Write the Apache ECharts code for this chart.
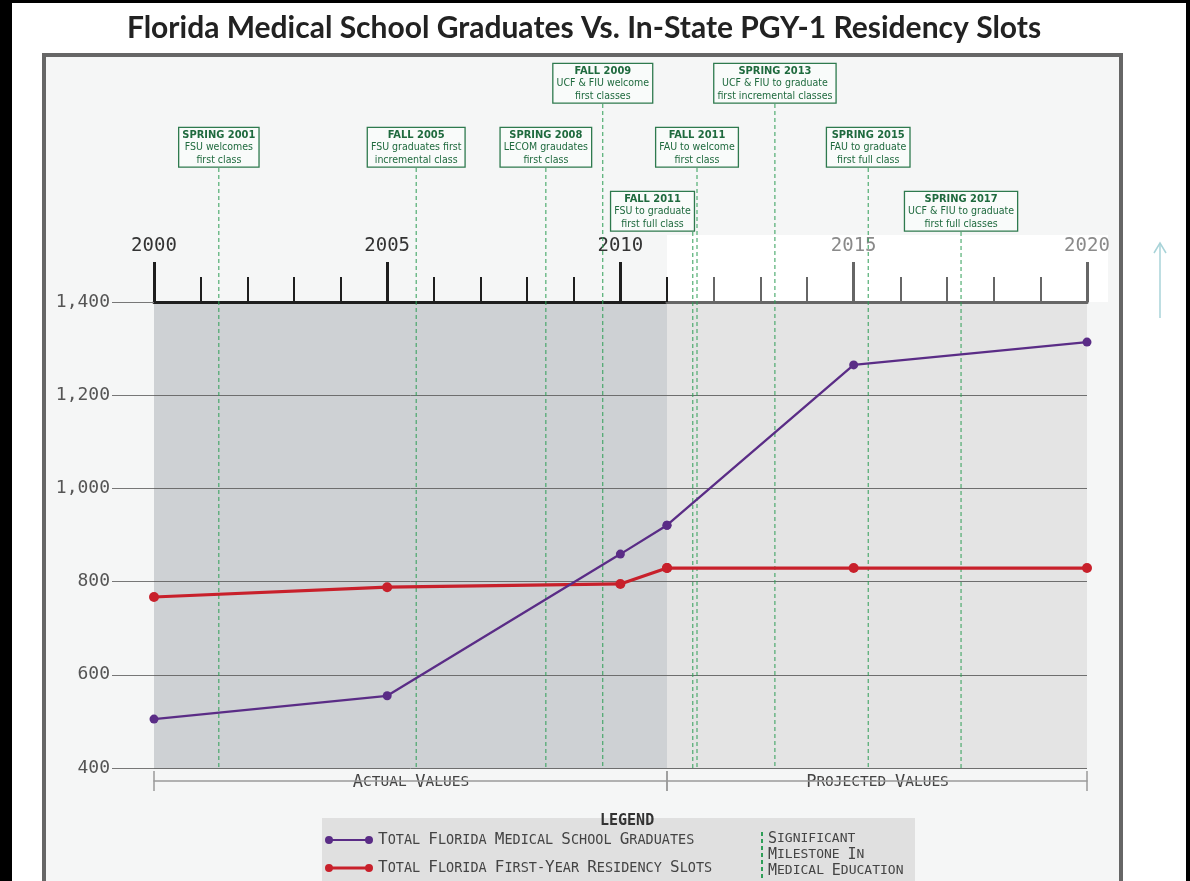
<!DOCTYPE html>
<html>
<head>
<meta charset="utf-8">
<style>
  html, body { margin: 0; padding: 0; background: #ffffff; }
  #chart { width: 1190px; height: 881px; }
</style>
<script src="https://cdn.jsdelivr.net/npm/echarts@6/dist/echarts.min.js"></script>
</head>
<body>
<div id="chart"></div>
<script>
// ---------------- data ----------------
const chartTitle = 'Florida Medical School Graduates Vs. In-State PGY-1 Residency Slots';
const years = [2000, 2005, 2010, 2011, 2015, 2020];
const graduates = [505, 555, 859, 921, 1265, 1314];
const residencySlots = [767, 788, 795, 829, 829, 829];
const lastActualYear = 2011;

const seriesNames = ['Total Florida Medical School Graduates', 'Total Florida First-Year Residency Slots'];
const milestoneName = 'Significant Milestone In Medical Education';

const majorYearsActual = [2000, 2005, 2010];
const minorYearsActual = [2001, 2002, 2003, 2004, 2006, 2007, 2008, 2009, 2011];
const majorYearsProjected = [2015, 2020];
const minorYearsProjected = [2012, 2013, 2014, 2016, 2017, 2018, 2019];

const yMin = 400, yMax = 1400, yStep = 200;

const milestoneYear = [2001.39, 2005.62, 2008.40, 2009.62, 2011.55, 2011.64, 2013.31, 2015.31, 2017.30];
const milestoneRow  = [10, 10, 10, 11, 9, 10, 11, 10, 9];
const milestoneHead = ['SPRING 2001', 'FALL 2005', 'SPRING 2008', 'FALL 2009', 'FALL 2011', 'FALL 2011', 'SPRING 2013', 'SPRING 2015', 'SPRING 2017'];
const milestoneBody = [
  ['FSU welcomes', 'first class'],
  ['FSU graduates first', 'incremental class'],
  ['LECOM graudates', 'first class'],
  ['UCF & FIU welcome', 'first classes'],
  ['FSU to graduate', 'first full class'],
  ['FAU to welcome', 'first class'],
  ['UCF & FIU to graduate', 'first incremental classes'],
  ['FAU to graduate', 'first full class'],
  ['UCF & FIU to graduate', 'first full classes']
];
const milestoneAnchor = ['center', 'center', 'center', 'center', 'right', 'center', 'center', 'center', 'center'];

// ---------------- helpers ----------------
const MONO = 'DejaVu Sans Mono';
const NARROW = '"Liberation Sans Narrow", "DejaVu Sans Condensed", "Roboto", sans-serif';
function smallCaps(str) {
  let out = '', cur = null, buf = '';
  for (const ch of str) {
    const big = ch >= 'A' && ch <= 'Z';
    const t = big ? 'c' : 's';
    if (t !== cur && buf) { out += '{' + cur + '|' + buf + '}'; buf = ''; }
    cur = t; buf += ch.toUpperCase();
  }
  if (buf) out += '{' + cur + '|' + buf + '}';
  return out;
}
const pairs = (ys, vals, test) => ys.map((y, i) => [y, vals[i]]).filter(p => test(p[0]));
const isActual = y => y <= lastActualYear;
const isProjected = y => y >= lastActualYear;

const measureCtx = document.createElement('canvas').getContext('2d');
function textWidth(t, font) { measureCtx.font = font; return measureCtx.measureText(t).width; }

const HEAD_FONT_SIZE = 11, BODY_FONT_SIZE = 10.5;
const greenText = '#1f6a3e', greenLine = '#2f9e57';

// ---------------- option ----------------
const gridTop = 302, gridH = 466, gridL = 154, gridWA = 513, gridWB = 420;

function topMajorAxis(gridIndex, min, max, ticks, axisColor, labelColor) {
  return {
    gridIndex, type: 'value', position: 'top', min, max,
    axisLine: { show: true, onZero: false, lineStyle: { color: axisColor, width: 3 } },
    axisTick: { show: true, customValues: ticks, length: 40, lineStyle: { color: axisColor, width: 3 } },
    axisLabel: { show: true, customValues: ticks, margin: 46, fontFamily: MONO, fontSize: 19, color: labelColor, formatter: v => String(v) },
    splitLine: { show: false }
  };
}
function topMinorAxis(gridIndex, min, max, ticks, axisColor) {
  return {
    gridIndex, type: 'value', position: 'top', min, max,
    axisLine: { show: false, onZero: false },
    axisTick: { show: true, customValues: ticks, length: 25, lineStyle: { color: axisColor, width: 2 } },
    axisLabel: { show: false }, splitLine: { show: false }
  };
}
function bracketAxis(gridIndex, min, max, label) {
  return {
    gridIndex, type: 'value', position: 'bottom', offset: 13, min, max,
    name: smallCaps(label), nameLocation: 'middle', nameGap: -7,
    nameTextStyle: {
      backgroundColor: '#f5f6f6', padding: [0, 1, 0, 2], color: '#444',
      rich: { c: { fontFamily: MONO, fontSize: 17, color: '#444' }, s: { fontFamily: MONO, fontSize: 14.5, color: '#444' } }
    },
    axisLine: { show: true, onZero: false, lineStyle: { color: '#9a9a9a', width: 1.5 } },
    axisTick: { show: true, customValues: [min, max], length: 10, lineStyle: { color: '#9a9a9a', width: 1.5 } },
    axisLabel: { show: false }, splitLine: { show: false }
  };
}
function bracketUpperTicks(gridIndex, min, max) {
  return {
    gridIndex, type: 'value', position: 'bottom', offset: 3, min, max,
    axisLine: { show: false, onZero: false },
    axisTick: { show: true, customValues: [min, max], length: 10, lineStyle: { color: '#9a9a9a', width: 1.5 } },
    axisLabel: { show: false }, splitLine: { show: false }
  };
}
const splitStyle = { show: true, lineStyle: { color: '#6e6e6e', width: 1 } };

const option = {
  backgroundColor: '#ffffff',
  animation: false,
  title: [
    { text: chartTitle, left: 579, top: 8, textAlign: 'center',
      textStyle: { fontFamily: 'Lato', fontWeight: 'bold', fontSize: 30, color: '#222' } },
    { text: 'LEGEND', left: 595, top: 809,
      textStyle: { fontFamily: MONO, fontWeight: 'bold', fontSize: 15, color: '#333' } }
  ],
  graphic: [
    { type: 'rect', z: -20, shape: { x: 0, y: 0, width: 1190, height: 881 }, style: { fill: '#000' } },
    { type: 'rect', z: -19, shape: { x: 12, y: 3, width: 1174, height: 881 }, style: { fill: '#fff' } },
    { type: 'rect', z: -18, shape: { x: 44, y: 55, width: 1077, height: 840 }, style: { fill: '#f5f6f6', stroke: '#666', lineWidth: 4 } },
    { type: 'rect', z: -17, shape: { x: 667, y: 235, width: 441, height: 67 }, style: { fill: '#ffffff' } },
    { type: 'rect', z: -17, shape: { x: 322, y: 818, width: 593, height: 70 }, style: { fill: '#e0e0e0' } },
    { type: 'polyline', z: -16, shape: { points: [[1160, 318], [1160, 243]] }, style: { stroke: '#a8d3d8', lineWidth: 1.5, fill: null } },
    { type: 'polyline', z: -16, shape: { points: [[1154, 253], [1160, 243], [1166, 253]] }, style: { stroke: '#a8d3d8', lineWidth: 1.5, fill: null } }
  ],
  legend: [
    {
      data: seriesNames.map((n, i) => ({
        name: n,
        icon: 'path://M0,4A4,4,0,1,1,8,4A4,4,0,1,1,0,4Z M4,' + (i === 0 ? '3.1' : '2.6') + 'H44V' + (i === 0 ? '4.9' : '5.4') + 'H4Z M40,4A4,4,0,1,1,48,4A4,4,0,1,1,40,4Z'
      })),
      orient: 'vertical', left: 322, top: 829, itemWidth: 48, itemHeight: 8, itemGap: 12,
      padding: 3, selectedMode: false,
      formatter: n => smallCaps(n),
      textStyle: { color: '#444', rich: { c: { fontFamily: MONO, fontSize: 16, color: '#444' }, s: { fontFamily: MONO, fontSize: 13.5, color: '#444' } } }
    },
    {
      data: [{ name: milestoneName, icon: 'path://M0,0H2V4H0Z M0,7H2V11H0Z M0,14H2V18H0Z M0,21H2V25H0Z M0,28H2V32H0Z M0,35H2V39H0Z M0,42H2V46H0Z' }],
      orient: 'vertical', left: 758, top: 828, itemWidth: 2, itemHeight: 46, padding: 3, selectedMode: false,
      formatter: () => smallCaps('Significant') + '\n' + smallCaps('Milestone In') + '\n' + smallCaps('Medical Education'),
      textStyle: { color: '#444', lineHeight: 16, rich: { c: { fontFamily: MONO, fontSize: 15, color: '#444', lineHeight: 16 }, s: { fontFamily: MONO, fontSize: 13, color: '#444', lineHeight: 16 } } }
    }
  ],
  grid: [
    { left: gridL, top: gridTop, width: gridWA, height: gridH, show: true, backgroundColor: '#ced1d4', borderWidth: 0, outerBoundsMode: 'none' },
    { left: gridL + gridWA, top: gridTop, width: gridWB, height: gridH, show: true, backgroundColor: '#e4e4e4', borderWidth: 0, outerBoundsMode: 'none' },
    { left: gridL, top: 64, width: gridWA + gridWB, height: gridTop + gridH - 64, show: false, outerBoundsMode: 'none' }
  ],
  xAxis: [
    topMajorAxis(0, years[0], lastActualYear, majorYearsActual, '#1e1e1e', '#333'),
    topMinorAxis(0, years[0], lastActualYear, minorYearsActual, '#1e1e1e'),
    bracketAxis(0, years[0], lastActualYear, 'Actual Values'),
    bracketUpperTicks(0, years[0], lastActualYear),
    topMajorAxis(1, lastActualYear, years[years.length - 1], majorYearsProjected, '#666', '#8a8a8a'),
    topMinorAxis(1, lastActualYear, years[years.length - 1], minorYearsProjected, '#666'),
    bracketAxis(1, lastActualYear, years[years.length - 1], 'Projected Values'),
    bracketUpperTicks(1, lastActualYear, years[years.length - 1]),
    { gridIndex: 2, type: 'value', min: years[0], max: years[years.length - 1], show: false }
  ],
  yAxis: [
    { gridIndex: 0, type: 'value', min: yMin, max: yMax, interval: yStep,
      axisLine: { show: false },
      axisTick: { show: true, length: 42, lineStyle: { color: '#777', width: 1 } },
      axisLabel: { margin: 44, fontFamily: MONO, fontSize: 18, color: '#555', formatter: v => v.toLocaleString('en-US') },
      splitLine: splitStyle },
    { gridIndex: 1, type: 'value', min: yMin, max: yMax, interval: yStep,
      axisLine: { show: false }, axisTick: { show: false }, axisLabel: { show: false },
      splitLine: splitStyle },
    { gridIndex: 2, type: 'value', min: 0, max: 11, show: false }
  ],
  series: [
    { name: seriesNames[0], type: 'line', xAxisIndex: 0, yAxisIndex: 0, z: 5, clip: false,
      data: pairs(years, graduates, isActual), symbol: 'circle', symbolSize: 9,
      lineStyle: { color: '#5a2c86', width: 2.3 }, itemStyle: { color: '#5a2c86' } },
    { name: seriesNames[0], type: 'line', xAxisIndex: 4, yAxisIndex: 1, z: 5, clip: false,
      data: pairs(years, graduates, isProjected), symbol: 'circle', symbolSize: 9,
      lineStyle: { color: '#5a2c86', width: 2.3 }, itemStyle: { color: '#5a2c86' } },
    { name: seriesNames[1], type: 'line', xAxisIndex: 0, yAxisIndex: 0, z: 4, clip: false,
      data: pairs(years, residencySlots, isActual), symbol: 'circle', symbolSize: 10,
      lineStyle: { color: '#c8202b', width: 3.2 }, itemStyle: { color: '#c8202b' } },
    { name: seriesNames[1], type: 'line', xAxisIndex: 4, yAxisIndex: 1, z: 4, clip: false,
      data: pairs(years, residencySlots, isProjected), symbol: 'circle', symbolSize: 10,
      lineStyle: { color: '#c8202b', width: 3.2 }, itemStyle: { color: '#c8202b' } },
    { name: milestoneName, type: 'custom', xAxisIndex: 8, yAxisIndex: 2, z: 3, clip: false,
      itemStyle: { color: greenLine },
      data: milestoneYear.map((x, i) => [x, milestoneRow[i]]),
      renderItem: function (params, api) {
        const i = params.dataIndex;
        const x = api.value(0), row = api.value(1);
        const top = api.coord([x, row]);
        const bottom = api.coord([x, 0]);
        const headFont = 'bold ' + HEAD_FONT_SIZE + 'px ' + NARROW;
        const bodyFont = BODY_FONT_SIZE + 'px ' + NARROW;
        let w = textWidth(milestoneHead[i], headFont);
        milestoneBody[i].forEach(l => { w = Math.max(w, textWidth(l, bodyFont)); });
        w += 6;
        const cx = milestoneAnchor[i] === 'right' ? top[0] - w / 2 + 1 : top[0];
        const txt = '{h|' + milestoneHead[i] + '}\n' + milestoneBody[i].map(l => '{b|' + l + '}').join('\n');
        return {
          type: 'group',
          children: [
            { type: 'line', shape: { x1: top[0], y1: top[1] + 12, x2: bottom[0], y2: bottom[1] },
              style: { stroke: greenLine, lineWidth: 1, lineDash: [4, 3] } },
            { type: 'text', x: cx, y: top[1],
              style: {
                text: txt, align: 'center', verticalAlign: 'top',
                backgroundColor: '#f9fbfa', borderColor: '#2e7a4e', borderWidth: 1.3,
                padding: [1, 3, 0, 3],
                rich: {
                  h: { fontFamily: NARROW, fontWeight: 'bold', fontSize: HEAD_FONT_SIZE, lineHeight: 12.5, fill: greenText, align: 'center' },
                  b: { fontFamily: NARROW, fontSize: BODY_FONT_SIZE, lineHeight: 12.5, fill: greenText, align: 'center' }
                }
              } }
          ]
        };
      } }
  ]
};

const chart = echarts.init(document.getElementById('chart'), null, { renderer: 'canvas' });
chart.setOption(option);
</script>
</body>
</html>
